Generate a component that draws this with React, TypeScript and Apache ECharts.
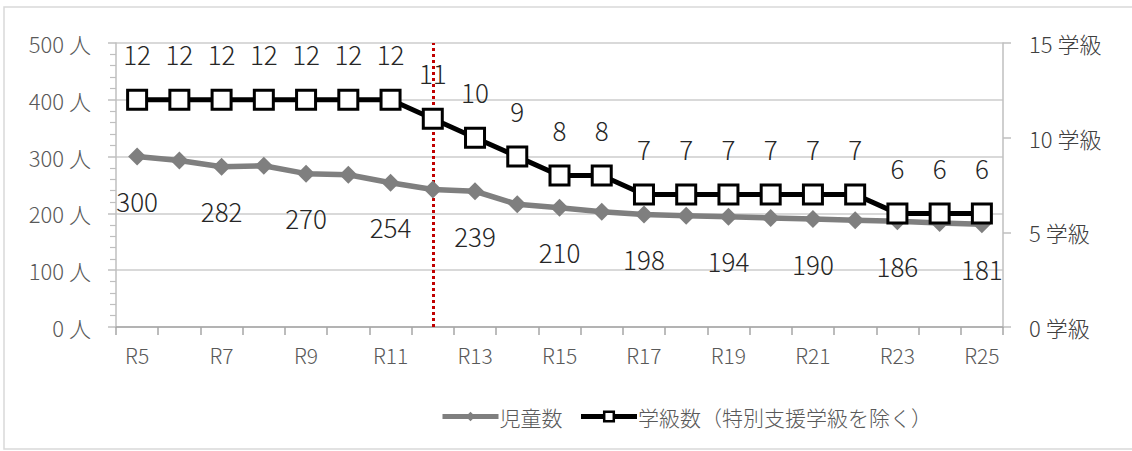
import React, { useEffect, useRef } from "react";
import * as echarts from "echarts";

const categories = ["R5","R6","R7","R8","R9","R10","R11","R12","R13","R14","R15","R16","R17","R18","R19","R20","R21","R22","R23","R24","R25"];
const pupils = [300, 293, 282, 284, 270, 268, 254, 242, 239, 216, 210, 203, 198, 196, 194, 192, 190, 188, 186, 183, 181];
const classes = [12, 12, 12, 12, 12, 12, 12, 11, 10, 9, 8, 8, 7, 7, 7, 7, 7, 7, 6, 6, 6];
const leftTicks = { min: 0, max: 500, interval: 100 };
const rightTicks = { min: 0, max: 15, interval: 5 };
const markerCategory = "R12";

const FONT = "'Noto Sans CJK JP', 'Noto Sans', sans-serif";

export default function App() {
  const ref = useRef<HTMLDivElement>(null);
  useEffect(() => {
    if (!ref.current) return;
    const chart = echarts.init(ref.current, undefined, { renderer: "svg" });
    const axisLineColor = "#bfbfbf";
    chart.setOption({
      animation: false,
      backgroundColor: "#ffffff",
      textStyle: { fontFamily: FONT },
      grid: { left: 116, right: 129, top: 43, bottom: 124, containLabel: false },
      graphic: [
        {
          type: "rect",
          shape: { x: 4, y: 7, width: 1140, height: 442 },
          style: { fill: "none", stroke: "#d9d9d9", lineWidth: 1.5 },
          silent: true,
          z: -10,
        },
      ],
      legend: {
        data: [
          { name: "児童数", itemStyle: { color: "#7f7f7f" } },
          { name: "学級数（特別支援学級を除く）", itemStyle: { color: "#ffffff", borderColor: "#000000", borderWidth: 2.5 } },
        ],
        left: 435,
        top: 401,
        itemWidth: 56,
        itemHeight: 12,
        itemGap: 16,
        lineStyle: { width: 5 },
        textStyle: { fontSize: 21, color: "#595959", fontFamily: FONT, fontWeight: 300, padding: [0, 0, 0, -4] },
      },
      xAxis: {
        type: "category",
        data: categories,
        boundaryGap: true,
        axisLine: { show: true, lineStyle: { color: "#a6a6a6", width: 1.5 } },
        axisTick: { show: true, length: 8, interval: 0, lineStyle: { color: "#a6a6a6", width: 1.5 } },
        axisLabel: { interval: 1, margin: 17, fontSize: 21, color: "#595959", fontFamily: FONT, fontWeight: 300 },
        splitLine: { show: false },
      },
      yAxis: [
        {
          type: "value",
          min: leftTicks.min,
          max: leftTicks.max,
          interval: leftTicks.interval,
          axisLine: { show: true, lineStyle: { color: axisLineColor, width: 1.5 } },
          axisTick: { show: true, length: 8, lineStyle: { color: axisLineColor, width: 1.5 } },
          minorTick: { show: true, splitNumber: 5, length: 6, lineStyle: { color: axisLineColor, width: 1.2 } },
          axisLabel: { formatter: "{value} 人", margin: 25, fontSize: 22, color: "#595959", fontFamily: FONT, fontWeight: 300 },
          splitLine: { show: true, lineStyle: { color: "#d9d9d9", width: 1.8 } },
        },
        {
          type: "value",
          min: rightTicks.min,
          max: rightTicks.max,
          interval: rightTicks.interval,
          position: "right",
          axisLine: { show: true, lineStyle: { color: axisLineColor, width: 1.5 } },
          axisTick: { show: true, length: 8, lineStyle: { color: axisLineColor, width: 1.5 } },
          axisLabel: { formatter: "{value} 学級", margin: 26, fontSize: 22, color: "#404040", fontFamily: FONT, fontWeight: 300 },
          splitLine: { show: false },
        },
      ],
      series: [
        {
          name: "児童数",
          type: "line",
          yAxisIndex: 0,
          data: pupils.map((v, i) => ({
            value: v,
            label: { show: i % 2 === 0 },
          })),
          symbol: "diamond",
          symbolSize: 18,
          lineStyle: { color: "#7f7f7f", width: 5.5 },
          itemStyle: { color: "#7f7f7f" },
          label: {
            position: "bottom",
            distance: 22,
            fontSize: 26,
            fontWeight: 300,
            color: "#262626",
            fontFamily: FONT,
          },
          markLine: {
            silent: true,
            symbol: ["none", "none"],
            label: { show: false },
            lineStyle: { color: "#c00000", type: [3, 3], width: 3 },
            data: [{ xAxis: markerCategory }],
            z: 1,
          },
          z: 2,
        },
        {
          name: "学級数（特別支援学級を除く）",
          type: "line",
          yAxisIndex: 1,
          data: classes,
          symbol: "rect",
          symbolSize: 19,
          lineStyle: { color: "#000000", width: 5 },
          itemStyle: { color: "#ffffff", borderColor: "#000000", borderWidth: 3 },
          label: {
            show: true,
            position: "top",
            distance: 22,
            fontSize: 26,
            fontWeight: 300,
            color: "#262626",
            fontFamily: FONT,
          },
          z: 3,
        },
      ],
    });
    return () => chart.dispose();
  }, []);
  return <div ref={ref} style={{ width: 1132, height: 451, position: "absolute", left: 0, top: 0 }} />;
}
